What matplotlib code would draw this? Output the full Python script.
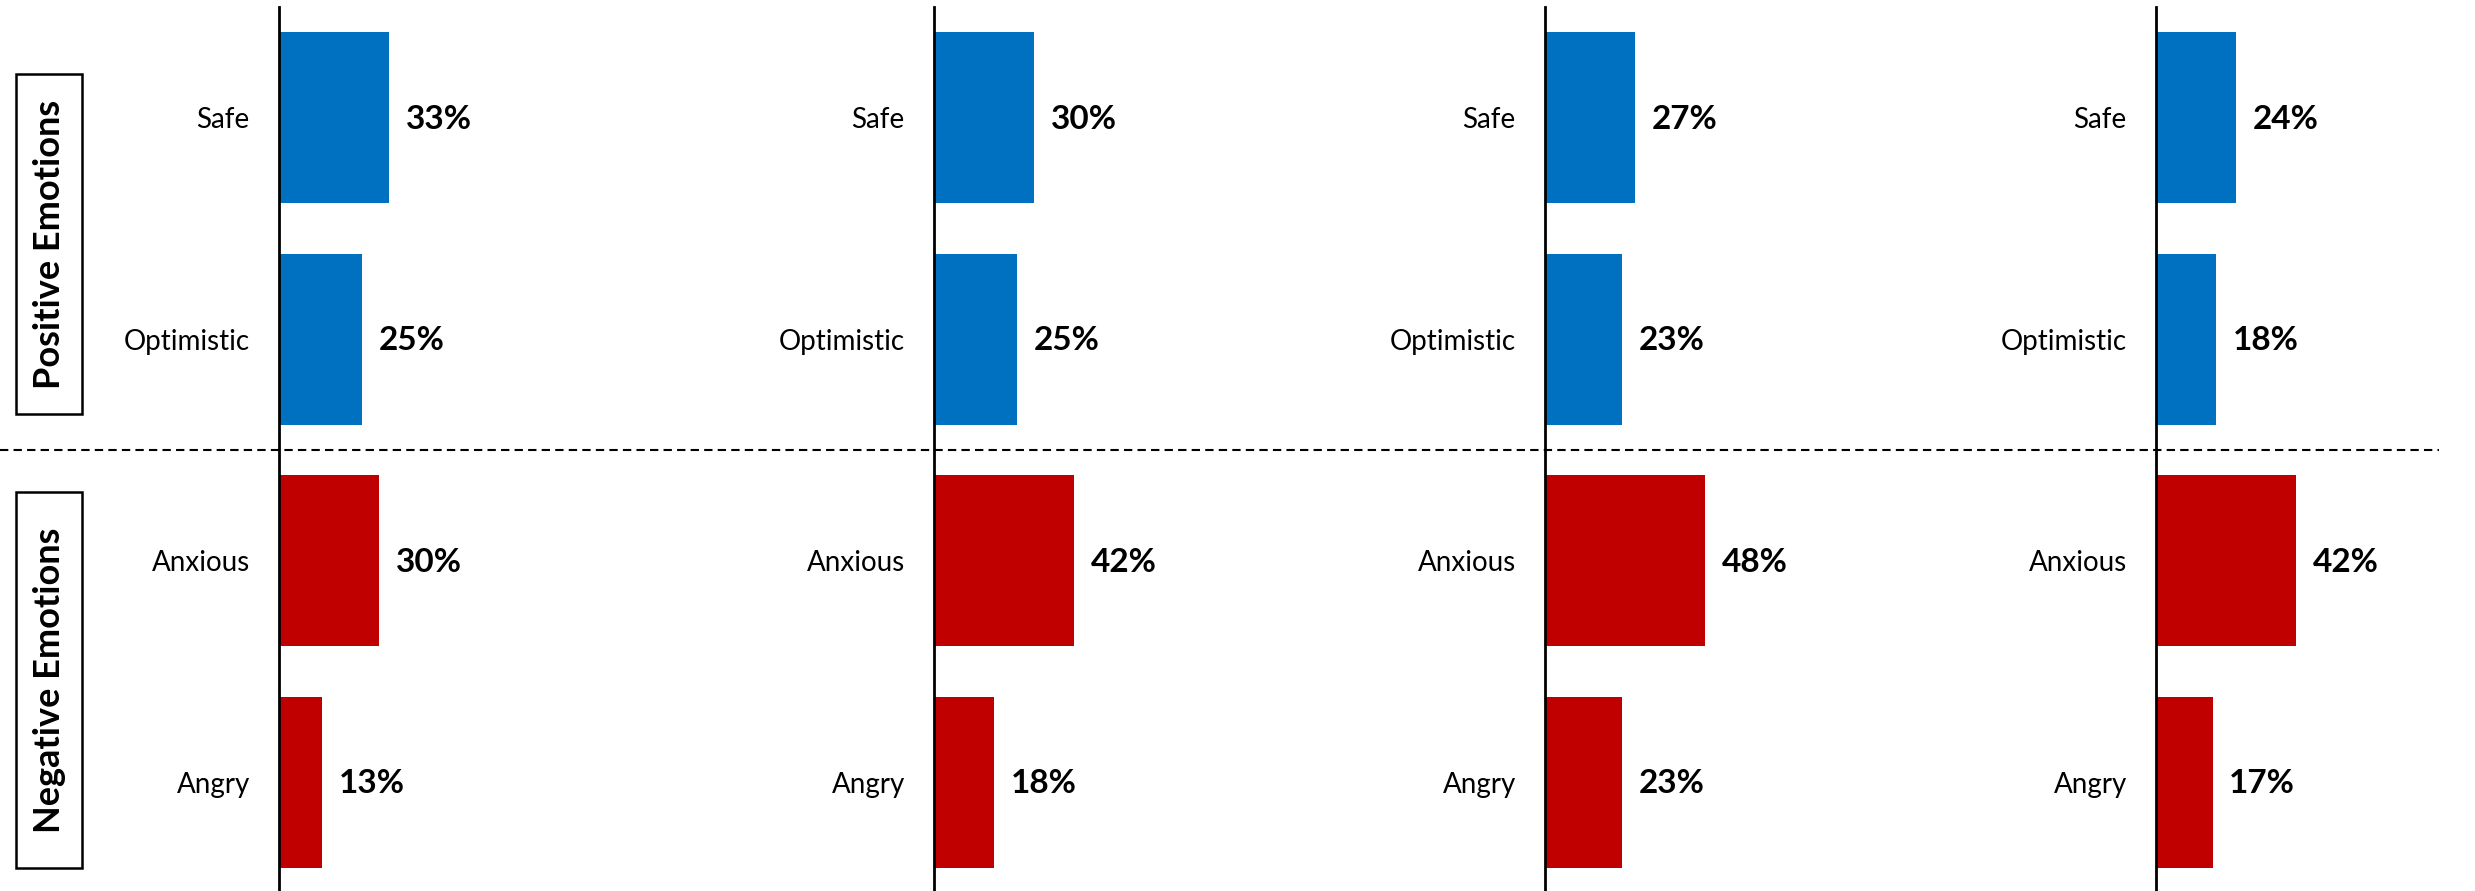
import matplotlib.pyplot as plt
import matplotlib.transforms as mtransforms
from matplotlib.lines import Line2D
from matplotlib.patches import Rectangle

plt.rcParams['font.family'] = ['Lato', 'DejaVu Sans']

emotions = ["Safe", "Optimistic", "Anxious", "Angry"]
groups = ["Positive Emotions", "Negative Emotions"]
panel1 = [33, 25, 30, 13]
panel2 = [30, 25, 42, 18]
panel3 = [27, 23, 48, 23]
panel4 = [24, 18, 42, 17]
panels = [panel1, panel2, panel3, panel4]

BLUE = "#0070C0"
RED = "#C00000"
bar_colors = [BLUE, BLUE, RED, RED]

W, H = 2475, 891
fig = plt.figure(figsize=(W / 100, H / 100), dpi=100)

PX_PER_PCT = 3.33
XMAX = 60
lefts_px = [279, 934, 1545, 2156]

axes = []
for left, vals in zip(lefts_px, panels):
    ax = fig.add_axes([left / W, -2 / H, XMAX * PX_PER_PCT / W, 886 / H])
    y = list(range(len(emotions)))
    ax.barh(y, vals, height=0.77, color=bar_colors, zorder=2)
    for yi, v in zip(y, vals):
        ax.annotate(f"{v}%", (v, yi), xytext=(12, -1), textcoords="offset points",
                    ha="left", va="center", fontsize=24, fontweight="bold",
                    color="black")
    ax.set_xlim(0, XMAX)
    ax.set_ylim(3.5, -0.5)
    ax.set_yticks(y)
    ax.set_yticklabels(emotions, fontsize=20)
    ax.tick_params(axis="y", length=0, pad=21)
    ax.set_xticks([])
    for s in ["top", "right", "bottom"]:
        ax.spines[s].set_visible(False)
    ax.spines["left"].set_linewidth(2)
    ax.patch.set_visible(False)
    axes.append(ax)

# dashed separator between positive and negative emotions
trans = mtransforms.blended_transform_factory(fig.transFigure, axes[0].transData)
fig.add_artist(Line2D([0, 2439 / W], [1.5, 1.5], transform=trans, color="black",
                      linewidth=1.5, dashes=(4, 2.5)))

# group label boxes
box_specs = [(74, 414), (492, 868)]
for name, (top, bot) in zip(groups, box_specs):
    fig.add_artist(Rectangle((16 / W, 1 - bot / H), 66 / W, (bot - top) / H,
                             transform=fig.transFigure, fill=False,
                             edgecolor="black", linewidth=1.8))
    fig.text(50 / W, 1 - (top + bot) / 2 / H, name, rotation=90, ha="center",
             va="center", fontsize=26, fontweight="bold")

fig.savefig("out.png", dpi=100)
